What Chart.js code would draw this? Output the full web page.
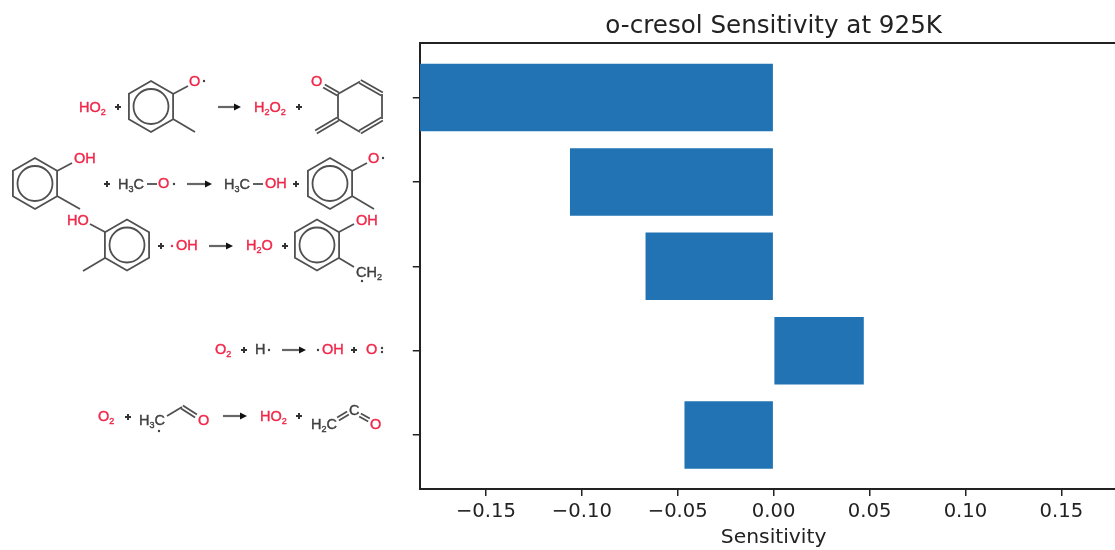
<!DOCTYPE html>
<html>
<head>
<meta charset="utf-8">
<title>o-cresol Sensitivity at 925K</title>
<script src="https://cdn.jsdelivr.net/npm/chart.js@4"></script>
<style>
html, body { margin: 0; padding: 0; background: #fff; overflow: hidden; }
canvas { display: block; }
</style>
</head>
<body>
<canvas id="sensitivityChart" width="1128" height="550"></canvas>
<script>
// values
const reactions = [
    'HO2 + o-cresoxy -> H2O2 + quinone methide',
    'o-cresol + CH3O -> CH3OH + o-cresoxy',
    'o-cresol + OH -> H2O + hydroxybenzyl',
    'O2 + H -> OH + O',
    'O2 + CH2CHO -> HO2 + CH2CO'
];
const sensitivities = [-0.1845, -0.1062, -0.0668, 0.047, -0.0465];
const xTicks = [-0.15, -0.10, -0.05, 0.00, 0.05, 0.10, 0.15];
const yTicks = [0, 1, 2, 3, 4];

const RED = '#f0284a';
const DARK = '#404040';

// text with _n subscripts, left aligned on x
function chem(ctx, str, x, y, color) {
    ctx.fillStyle = color;
    ctx.strokeStyle = color;
    ctx.lineWidth = 0.4;
    ctx.textBaseline = 'middle';
    ctx.textAlign = 'left';
    str.split(/(_\d)/).forEach(function(part) {
        if (!part) return;
        const sub = part[0] === '_';
        const txt = sub ? part.slice(1) : part;
        ctx.font = sub ? '9px "Liberation Sans"' : '14.5px "Liberation Sans"';
        ctx.fillText(txt, x, sub ? y + 5 : y);
        ctx.strokeText(txt, x, sub ? y + 5 : y);
        x += ctx.measureText(txt).width;
    });
    ctx.strokeStyle = '#505050';
    ctx.lineWidth = 1.8;
}

function line(ctx, x1, y1, x2, y2) {
    ctx.beginPath();
    ctx.moveTo(x1, y1);
    ctx.lineTo(x2, y2);
    ctx.stroke();
}

// two parallel strokes for a double bond
function dbl(ctx, x1, y1, x2, y2) {
    const len = Math.hypot(x2 - x1, y2 - y1);
    const nx = -(y2 - y1) / len * 1.7, ny = (x2 - x1) / len * 1.7;
    line(ctx, x1 + nx, y1 + ny, x2 + nx, y2 + ny);
    line(ctx, x1 - nx, y1 - ny, x2 - nx, y2 - ny);
}

function hexPoint(cx, cy, r, i) {
    const a = (-90 + 60 * i) * Math.PI / 180;
    return [cx + r * Math.cos(a), cy + r * Math.sin(a)];
}

function ring(ctx, cx, cy) {
    ctx.beginPath();
    for (let i = 0; i < 6; i++) {
        const p = hexPoint(cx, cy, 25.5, i);
        if (i === 0) ctx.moveTo(p[0], p[1]); else ctx.lineTo(p[0], p[1]);
    }
    ctx.closePath();
    ctx.stroke();
    ctx.beginPath();
    ctx.arc(cx, cy, 17.5, 0, Math.PI * 2);
    ctx.stroke();
}

function plus(ctx, x, y) {
    ctx.fillStyle = '#333';
    ctx.fillRect(x - 3, y - 1, 6, 2);
    ctx.fillRect(x - 1, y - 3, 2, 6);
}

function dot(ctx, x, y, color) {
    ctx.fillStyle = color || DARK;
    ctx.beginPath();
    ctx.arc(x, y, 1.2, 0, Math.PI * 2);
    ctx.fill();
}

function arrow(ctx, x1, x2, y) {
    ctx.save();
    ctx.strokeStyle = '#666';
    ctx.lineWidth = 2.2;
    line(ctx, x1, y, x2 - 4, y);
    ctx.fillStyle = '#111';
    ctx.beginPath();
    ctx.moveTo(x2, y);
    ctx.lineTo(x2 - 7, y - 3.5);
    ctx.lineTo(x2 - 7, y + 3.5);
    ctx.closePath();
    ctx.fill();
    ctx.restore();
}

// structures drawn left of the axis, one row per reaction
const structuresPlugin = {
    id: 'structures',
    afterDraw: function(chart) {
        const ctx = chart.ctx;
        const area = chart.chartArea;
        ctx.save();

        // top and right spine
        ctx.strokeStyle = '#222';
        ctx.lineWidth = 2;
        line(ctx, area.left, area.top, area.right, area.top);
        line(ctx, area.right, area.top, area.right, area.bottom);

        ctx.filter = 'blur(0.55px)';
        ctx.strokeStyle = '#505050';
        ctx.lineWidth = 1.8;

        // row 1
        chem(ctx, 'HO_2', 79, 108, RED);
        plus(ctx, 118, 107);
        ring(ctx, 151, 106.5);
        line(ctx, 173, 94, 188, 86);
        line(ctx, 173, 119, 195, 132);
        chem(ctx, 'O', 189, 82, RED);
        dot(ctx, 204, 81);
        arrow(ctx, 218, 241, 107);
        chem(ctx, 'H_2O_2', 254, 108, RED);
        plus(ctx, 299, 107);
        line(ctx, 338, 94, 338, 119);
        line(ctx, 338, 94, 360, 81.5);
        dbl(ctx, 360, 81.5, 382, 94);
        line(ctx, 382, 94, 382, 119);
        dbl(ctx, 382, 119, 360, 132);
        line(ctx, 360, 132, 338, 119);
        dbl(ctx, 338, 94, 324, 86);
        dbl(ctx, 338, 119, 316, 132);
        chem(ctx, 'O', 311, 82, RED);

        // row 2
        ring(ctx, 35, 183.5);
        line(ctx, 57, 171, 72, 163);
        line(ctx, 57, 196, 80, 209);
        chem(ctx, 'OH', 74, 159, RED);
        plus(ctx, 107, 184);
        chem(ctx, 'H_3C', 118, 185, DARK);
        line(ctx, 147, 184, 157, 184);
        chem(ctx, 'O', 158, 184, RED);
        dot(ctx, 174, 184);
        arrow(ctx, 187, 212, 184);
        chem(ctx, 'H_3C', 224, 185, DARK);
        line(ctx, 253, 184, 263, 184);
        chem(ctx, 'OH', 265, 184, RED);
        plus(ctx, 296, 184);
        ring(ctx, 330, 183.5);
        line(ctx, 352, 171, 367, 163);
        line(ctx, 352, 196, 374, 209);
        chem(ctx, 'O', 368, 159, RED);
        dot(ctx, 383, 158);

        // row 3
        ring(ctx, 127, 245);
        line(ctx, 105, 232, 90, 224);
        line(ctx, 105, 258, 83, 271);
        chem(ctx, 'HO', 67, 221, RED);
        plus(ctx, 161, 246);
        dot(ctx, 172, 246, RED);
        chem(ctx, 'OH', 176, 246, RED);
        arrow(ctx, 209, 233, 246);
        chem(ctx, 'H_2O', 246, 246, RED);
        plus(ctx, 285, 246);
        ring(ctx, 317, 245);
        line(ctx, 339, 232, 354, 224);
        line(ctx, 339, 258, 354, 267);
        chem(ctx, 'OH', 356, 221, RED);
        chem(ctx, 'CH_2', 356, 273, DARK);
        dot(ctx, 362, 281);

        // row 4
        chem(ctx, 'O_2', 215, 350, RED);
        plus(ctx, 244, 350);
        chem(ctx, 'H', 255, 350, DARK);
        dot(ctx, 269, 350);
        arrow(ctx, 282, 306, 350);
        dot(ctx, 318, 350);
        chem(ctx, 'OH', 322, 350, RED);
        plus(ctx, 354, 350);
        chem(ctx, 'O', 366, 350, RED);
        dot(ctx, 382, 348);
        dot(ctx, 382, 352);

        // row 5
        chem(ctx, 'O_2', 98, 417, RED);
        plus(ctx, 128, 417);
        chem(ctx, 'H_3C', 139, 421, DARK);
        dot(ctx, 159, 431);
        line(ctx, 167, 416, 182, 407);
        dbl(ctx, 182, 407, 196, 416);
        chem(ctx, 'O', 198, 421, RED);
        arrow(ctx, 223, 247, 416);
        chem(ctx, 'HO_2', 260, 417, RED);
        plus(ctx, 299, 416);
        chem(ctx, 'H_2C', 311, 425, DARK);
        dbl(ctx, 338, 419, 348, 413);
        chem(ctx, 'C', 349, 411, DARK);
        dbl(ctx, 360, 415, 369, 420);
        chem(ctx, 'O', 370, 425, RED);

        ctx.restore();
    }
};

new Chart(document.getElementById('sensitivityChart').getContext('2d'), {
    type: 'bar',
    data: {
        labels: reactions,
        datasets: [{
            data: sensitivities.map(function(v, i) { return { x: v, y: yTicks[i] }; }),
            backgroundColor: '#2173b3',
            barPercentage: 0.8,
            categoryPercentage: 1
        }]
    },
    options: {
        indexAxis: 'y',
        responsive: false,
        animation: false,
        layout: { padding: { left: 412.8, right: 0.5, top: 12, bottom: 0 } },
        plugins: {
            legend: { display: false },
            tooltip: { enabled: false },
            title: {
                display: true,
                text: 'o-cresol Sensitivity at 925K',
                fullSize: false,
                color: '#222',
                font: { family: 'DejaVu Sans', size: 24.6, weight: 'normal' },
                padding: { top: 0, bottom: 1.5 }
            }
        },
        scales: {
            x: {
                type: 'linear',
                min: -0.1845,
                max: 0.1845,
                afterBuildTicks: function(axis) {
                    axis.ticks = xTicks.map(function(v) { return { value: v }; });
                },
                afterFit: function(axis) { axis.height = 61; },
                border: { color: '#222', width: 2 },
                grid: { display: true, drawOnChartArea: false, drawTicks: true, tickLength: 7, color: '#222', lineWidth: 1.5 },
                ticks: {
                    color: '#222',
                    maxRotation: 0,
                    autoSkip: false,
                    padding: 4,
                    font: { family: 'DejaVu Sans', size: 19.6 },
                    callback: function(v) { return v.toFixed(2).replace('-', '\u2212'); }
                },
                title: {
                    display: true,
                    text: 'Sensitivity',
                    color: '#222',
                    font: { family: 'DejaVu Sans', size: 20.3 },
                    padding: 0
                }
            },
            y: {
                type: 'linear',
                reverse: true,
                offset: false,
                min: -0.646,
                max: 4.64,
                afterBuildTicks: function(axis) {
                    axis.ticks = yTicks.map(function(v) { return { value: v }; });
                },
                afterFit: function(axis) { axis.width = 7; },
                border: { color: '#222', width: 2 },
                grid: { display: true, offset: false, drawOnChartArea: false, drawTicks: true, tickLength: 7, color: '#222', lineWidth: 1.5 },
                ticks: { display: false }
            }
        }
    },
    plugins: [structuresPlugin]
});
</script>
</body>
</html>
